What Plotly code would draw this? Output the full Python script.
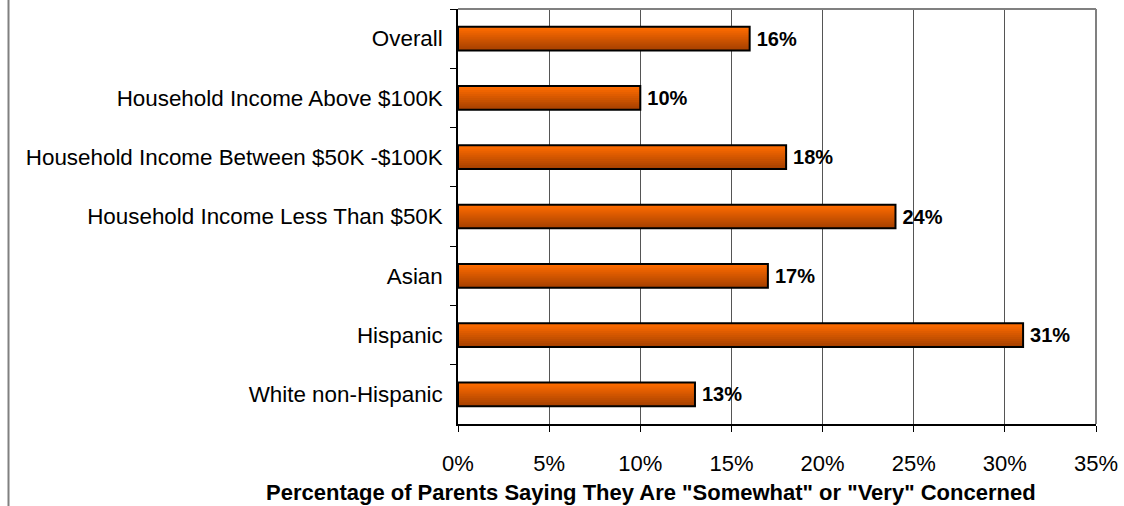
import plotly.graph_objects as go

categories = ["Overall", "Household Income Above $100K", "Household Income Between $50K -$100K",
              "Household Income Less Than $50K", "Asian", "Hispanic", "White non-Hispanic"]
values = [0.16, 0.10, 0.18, 0.24, 0.17, 0.31, 0.13]
labels = ["16%", "10%", "18%", "24%", "17%", "31%", "13%"]
x_title = 'Percentage of Parents Saying They Are "Somewhat" or "Very" Concerned'

W, H = 1124, 506
ML, MR, MT, MB = 458, 28, 9, 82
FONT = "Liberation Sans, Arial, sans-serif"

fig = go.Figure()

# gradient-like bars: layered bars sharing the top edge, lighter towards top
N = 12
BW = 0.4
c_bot = (168, 66, 0)
c_top = (255, 108, 0)
for k in range(N):
    t = k / (N - 1)
    col = tuple(int(c_bot[i] + (c_top[i] - c_bot[i]) * t) for i in range(3))
    w = BW * (1 - k / N)
    fig.add_trace(go.Bar(
        y=categories, x=values, orientation="h",
        width=w, offset=-BW / 2,
        marker=dict(color="rgb(%d,%d,%d)" % col, line=dict(width=0)),
        hoverinfo="skip", showlegend=False,
    ))

# outline + labels
fig.add_trace(go.Bar(
    y=categories, x=values, orientation="h",
    width=BW, offset=-BW / 2,
    marker=dict(color="rgba(0,0,0,0)", line=dict(color="black", width=2)),
    text=labels, texttemplate="\u2009%{text}",
    textposition="outside", constraintext="none", cliponaxis=False,
    textfont=dict(family=FONT, size=20, color="black", weight="bold"),
    showlegend=False,
))

pw = W - ML - MR
ph = H - MT - MB

fig.update_layout(
    width=W, height=H,
    margin=dict(l=ML, r=MR, t=MT, b=MB, autoexpand=False),
    barmode="overlay",
    plot_bgcolor="white", paper_bgcolor="white",
    font=dict(family=FONT, size=22, color="black"),
    xaxis=dict(
        range=[0, 0.35], dtick=0.05, tickformat=".0%",
        showgrid=True, gridcolor="#555555", gridwidth=1,
        showline=True, linecolor="black", linewidth=1.5,
        ticks="outside", ticklen=6, tickcolor="black",
        ticklabelstandoff=13,
        tickfont=dict(size=22),
        zeroline=False,
    ),
    yaxis=dict(
        autorange="reversed", categoryorder="array", categoryarray=categories,
        showline=True, linecolor="black", linewidth=1.5,
        ticks="outside", ticklen=6, tickcolor="black", tickson="boundaries",
        ticklabelstandoff=9,
        tickfont=dict(size=22.4),
        showgrid=False, zeroline=False,
    ),
    annotations=[
        dict(text=x_title, xref="paper", yref="paper",
             x=(651 - ML) / pw, y=(H - MB - 492) / ph, xanchor="center", yanchor="middle",
             showarrow=False, font=dict(family=FONT, size=22, color="black", weight="bold")),
    ],
    shapes=[
        dict(type="line", xref="paper", yref="paper", x0=0, x1=1, y0=1, y1=1,
             line=dict(color="#808080", width=2)),
        dict(type="line", xref="paper", yref="paper", x0=1, x1=1, y0=0, y1=1,
             line=dict(color="#808080", width=2)),
        dict(type="line", xref="paper", yref="paper",
             x0=(8.5 - ML) / pw, x1=(8.5 - ML) / pw, y0=-MB / ph, y1=1 + MT / ph,
             line=dict(color="#808080", width=2)),
    ],
)

fig.write_html("out.html", config={"displayModeBar": False},
               post_script="document.body.style.margin='0';document.body.style.overflow='hidden';")
